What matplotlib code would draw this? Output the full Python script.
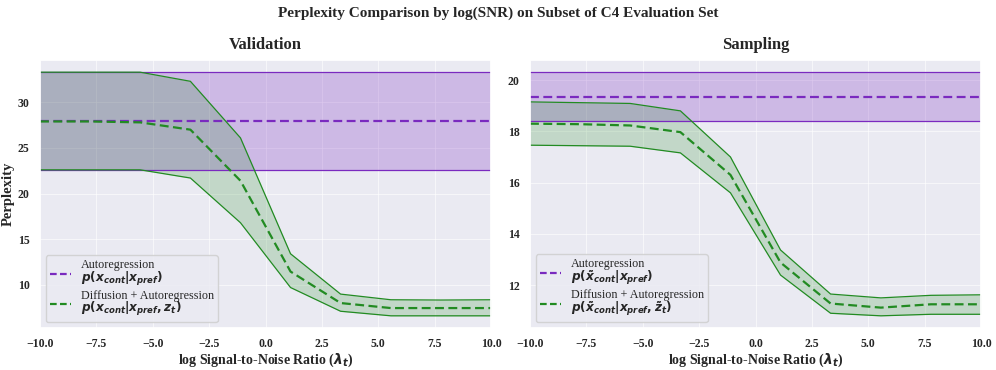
import numpy as np
import matplotlib
matplotlib.use("Agg")
import matplotlib.pyplot as plt
import seaborn as sns
from matplotlib.lines import Line2D

# ---- data ----
snr = [-10.0, -7.78, -5.56, -3.33, -1.11, 1.11, 3.33, 5.56, 7.78, 10.0]

val_ar_mean = 27.9
val_ar_low = 22.6
val_ar_high = 33.3
val_diff_mean = [27.9, 27.9, 27.8, 27.0, 21.4, 11.45, 8.0, 7.45, 7.45, 7.45]
val_diff_high = [33.3, 33.3, 33.3, 32.3, 26.1, 13.4, 8.98, 8.36, 8.33, 8.36]
val_diff_low = [22.6, 22.6, 22.6, 21.7, 16.8, 9.7, 7.1, 6.6, 6.6, 6.6]

smp_ar_mean = 19.35
smp_ar_low = 18.39
smp_ar_high = 20.31
smp_diff_mean = [18.3, 18.28, 18.23, 17.97, 16.3, 12.88, 11.28, 11.12, 11.25, 11.25]
smp_diff_high = [19.15, 19.12, 19.09, 18.8, 17.0, 13.37, 11.65, 11.5, 11.6, 11.62]
smp_diff_low = [17.46, 17.44, 17.42, 17.16, 15.6, 12.39, 10.9, 10.8, 10.86, 10.86]

xticks = [-10.0, -7.5, -5.0, -2.5, 0.0, 2.5, 5.0, 7.5, 10.0]

sns.set_theme(style="darkgrid")
plt.rcParams["font.family"] = ["Liberation Serif", "DejaVu Serif"]
plt.rcParams["mathtext.fontset"] = "custom"
plt.rcParams["mathtext.it"] = "DejaVu Sans:bold:italic"
plt.rcParams["mathtext.rm"] = "DejaVu Sans:bold"
plt.rcParams["mathtext.bf"] = "DejaVu Sans:bold"
plt.rcParams["mathtext.sf"] = "DejaVu Sans:bold"

PURPLE = "#7a2abf"
GREEN = "forestgreen"

fig = plt.figure(figsize=(9.96, 3.70), dpi=100)
ax1 = fig.add_axes([40/996, 1-328/370, 451/996, 268/370])
ax2 = fig.add_axes([530/996, 1-328/370, 451/996, 268/370])

def panel(ax, ar_mean, ar_low, ar_high, dm, dh, dl, title, lab_ar, lab_diff):
    ax.axhline(ar_mean, color=PURPLE, ls="--", lw=1.6, dashes=(4, 2))
    ax.axhline(ar_low, color=PURPLE, lw=0.9)
    ax.axhline(ar_high, color=PURPLE, lw=0.9)
    ax.fill_between([-10, 10], ar_low, ar_high, color=PURPLE, alpha=0.25, lw=0)
    ax.plot(snr, dm, color=GREEN, ls="--", lw=1.6, dashes=(4, 2))
    ax.plot(snr, dh, color=GREEN, lw=0.9)
    ax.plot(snr, dl, color=GREEN, lw=0.9)
    ax.fill_between(snr, dl, dh, color=GREEN, alpha=0.2, lw=0)
    ax.set_xlim(-10, 10)
    ax.set_xticks(xticks)
    ax.set_xticklabels([f"{t:.1f}".replace("-", "\u2212") for t in xticks])
    ax.tick_params(labelsize=8.5, pad=1.5)
    ax.grid(color="white", lw=0.8, alpha=0.6)
    ax.set_title(title, fontsize=12, fontweight="bold", pad=8)
    ax.set_xlabel(r"log Signal-to-Noise Ratio ($\lambda_t$)",
                  fontsize=10, fontweight="bold", labelpad=1)
    handles = [Line2D([], [], color=PURPLE, ls="--", lw=1.6, dashes=(3, 1.5)),
               Line2D([], [], color=GREEN, ls="--", lw=1.6, dashes=(3, 1.5))]
    leg = ax.legend(handles, [lab_ar, lab_diff], loc="lower left",
                    fontsize=8.7, handlelength=1.8, frameon=True,
                    borderpad=0.3, labelspacing=0.15, handletextpad=0.8)
    for t in leg.get_texts():
        t.set_linespacing(0.9)
    leg.get_frame().set_facecolor("#eaeaf2")
    leg.get_frame().set_edgecolor("#cccccc")

panel(ax1, val_ar_mean, val_ar_low, val_ar_high, val_diff_mean, val_diff_high, val_diff_low,
      "Validation",
      "Autoregression\n" + r"$p(x_{cont}|x_{pref})$",
      "Diffusion + Autoregression\n" + r"$p(x_{cont}|x_{pref}, z_t)$")
ax1.set_yticks([10, 15, 20, 25, 30])
ax1.set_ylabel("Perplexity", fontsize=10.5, fontweight="bold", labelpad=2)

panel(ax2, smp_ar_mean, smp_ar_low, smp_ar_high, smp_diff_mean, smp_diff_high, smp_diff_low,
      "Sampling",
      "Autoregression\n" + r"$p(\tilde{x}_{cont}|x_{pref})$",
      "Diffusion + Autoregression\n" + r"$p(\tilde{x}_{cont}|x_{pref}, \tilde{z}_t)$")
ax2.set_yticks([12, 14, 16, 18, 20])

for ax in (ax1, ax2):
    for lbl in ax.get_xticklabels() + ax.get_yticklabels():
        lbl.set_fontweight("bold")

fig.suptitle("Perplexity Comparison by log(SNR) on Subset of C4 Evaluation Set",
             fontsize=11, fontweight="bold", y=0.982)

fig.savefig("out.png", dpi=100)
